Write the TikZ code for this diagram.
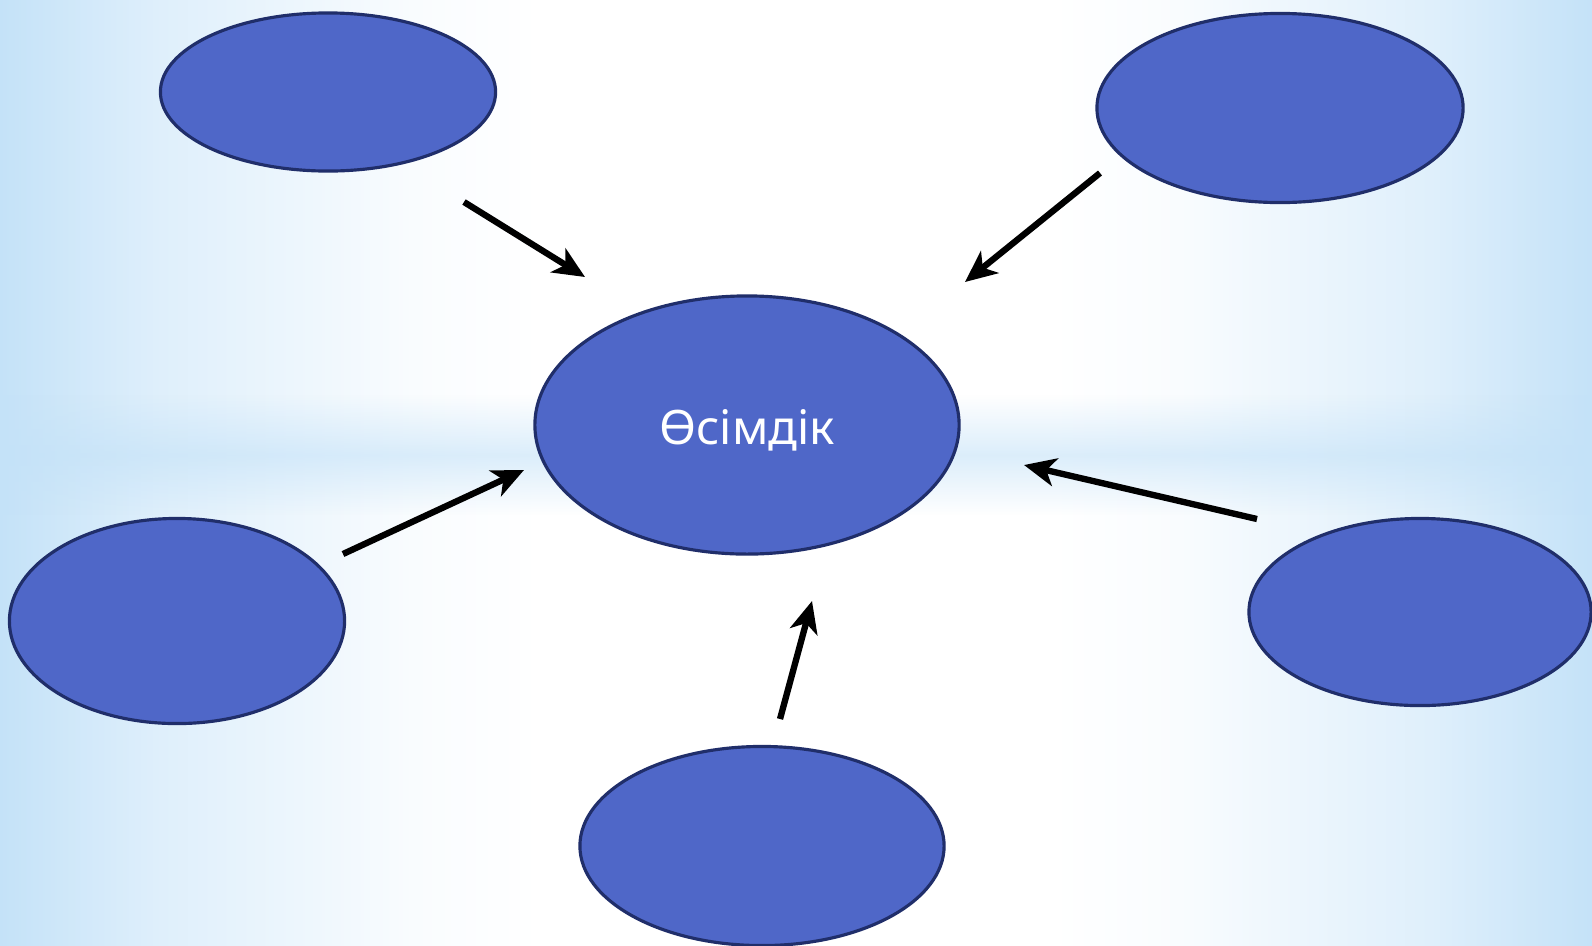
\documentclass[tikz,border=0pt]{standalone}
\usepackage{fontspec}
\setmainfont{Noto Sans}
\usetikzlibrary{shapes.geometric,arrows.meta,fadings}
\definecolor{bubble}{RGB}{79,103,200}
\definecolor{rim}{RGB}{32,46,106}
\definecolor{sky}{RGB}{196,226,248}
\pgfdeclarehorizontalshading{backdrop}{100bp}{color(0bp)=(sky); color(25bp)=(sky); color(30bp)=(sky!55!white); color(38bp)=(sky!10!white); color(42bp)=(white); color(58bp)=(white); color(62bp)=(sky!10!white); color(70bp)=(sky!55!white); color(75bp)=(sky); color(100bp)=(sky)}
\tikzfading[name=band, top color=transparent!100, bottom color=transparent!100, middle color=transparent!40]
\begin{document}
\begin{tikzpicture}[x=0.01cm, y=-0.01cm, line join=round, >={Stealth[length=9pt,width=8pt,inset=2.5pt]},
	blob/.style={ellipse, draw=rim, line width=0.9pt, fill=bubble, inner sep=0pt, text=white},
	pointer/.style={->, line width=1.8pt}]
	\shade[shading=backdrop] (0,0) rectangle (1592,945);
	\fill[sky, path fading=band] (0,395) rectangle (1592,515);
	\useasboundingbox (0,0) rectangle (1592,945);
	% ellipses
	\node[blob, minimum width=3.35cm, minimum height=1.58cm] (tl) at (328,92) {};
	\node[blob, minimum width=3.66cm, minimum height=1.89cm] (tr) at (1280,108) {};
	\node[blob, minimum width=4.24cm, minimum height=2.58cm, font=\fontsize{13.5}{15}\selectfont,
		text height=13.5pt, text depth=2.5pt] (plant) at (747,425) {Өсімдік};
	\node[blob, minimum width=3.35cm, minimum height=2.05cm] (lf) at (177,621) {};
	\node[blob, minimum width=3.42cm, minimum height=1.87cm] (rt) at (1420,612) {};
	\node[blob, minimum width=3.64cm, minimum height=1.99cm] (bt) at (762,846) {};
	% arrows
	\coordinate (tl-s) at (464,202); \coordinate (tl-e) at (585,277);
	\coordinate (tr-s) at (1100,173); \coordinate (tr-e) at (965,282);
	\coordinate (lf-s) at (343,554); \coordinate (lf-e) at (524,470);
	\coordinate (rt-s) at (1257,519); \coordinate (rt-e) at (1024,465);
	\coordinate (bt-s) at (780,719); \coordinate (bt-e) at (812,601);
	\draw[pointer] (tl-s)--(tl-e);
	\draw[pointer] (tr-s)--(tr-e);
	\draw[pointer] (lf-s)--(lf-e);
	\draw[pointer] (rt-s)--(rt-e);
	\draw[pointer] (bt-s)--(bt-e);
\end{tikzpicture}
\end{document}
